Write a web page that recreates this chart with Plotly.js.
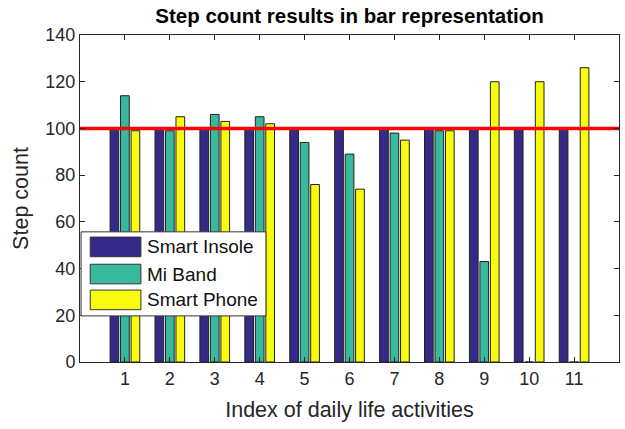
<!DOCTYPE html>
<html>
<head>
<meta charset="utf-8">
<script src="https://cdn.plot.ly/plotly-3.0.1.min.js"></script>
<style>html,body{margin:0;padding:0;background:#fff;}#chart{width:625px;height:429px;}</style>
</head>
<body>
<div id="chart"></div>
<script>
const categories = [1, 2, 3, 4, 5, 6, 7, 8, 9, 10, 11];
const seriesNames = ["Smart Insole", "Mi Band", "Smart Phone"];
const smartInsole = [100, 100, 100, 100, 100, 100, 100, 100, 100, 100, 100];
const miBand = [114, 99, 106, 105, 94, 89, 98, 99, 43, 0, 0];
const smartPhone = [99, 105, 103, 102, 76, 74, 95, 99, 120, 120, 126];
const referenceValue = 100;
const yTicks = [0, 20, 40, 60, 80, 100, 120, 140];

const colors = ["#352a87", "#38b99e", "#f9fb0e"];
const seriesValues = [smartInsole, miBand, smartPhone];

const traces = seriesValues.map((vals, i) => ({
  type: "bar",
  x: categories,
  y: vals,
  name: seriesNames[i],
  marker: { color: colors[i], line: { color: "#222", width: 1 } },
  showlegend: false,
  hoverinfo: "x+y"
}));

traces.push({
  type: "scatter",
  mode: "lines",
  x: [0, 12],
  y: [referenceValue, referenceValue],
  line: { color: "#ff0000", width: 3.5 },
  showlegend: false,
  hoverinfo: "skip"
});

// custom legend (layout shapes + annotations, paper coords)
const shapes = [{
  type: "rect", xref: "paper", yref: "paper",
  x0: 0.002, x1: 0.345, y0: 0.141, y1: 0.398,
  fillcolor: "#ffffff", line: { color: "#333", width: 1 }, layer: "above"
}];
const annotations = [];
const rowY = [0.352, 0.269, 0.19];
seriesNames.forEach((n, i) => {
  shapes.push({
    type: "rect", xref: "paper", yref: "paper",
    x0: 0.019, x1: 0.113, y0: rowY[i] - 0.03, y1: rowY[i] + 0.03,
    fillcolor: colors[i], line: { color: "#333", width: 1 }, layer: "above"
  });
  annotations.push({
    xref: "paper", yref: "paper", x: 0.121, y: rowY[i],
    xanchor: "left", yanchor: "middle", showarrow: false,
    text: n, font: { family: "Liberation Sans, Arial, sans-serif", size: 19, color: "#111" }
  });
});

const layout = {
  width: 625, height: 429,
  margin: { l: 80, r: 6, t: 35, b: 67 },
  paper_bgcolor: "#fff", plot_bgcolor: "#fff",
  font: { family: "Liberation Sans, Arial, sans-serif", size: 18, color: "#262626" },
  title: {
    text: "<b>Step count results in bar representation</b>",
    x: 0.5, xref: "paper", xanchor: "center",
    y: 0.962, yanchor: "middle",
    font: { size: 20.5, color: "#000" }
  },
  barmode: "group",
  bargap: 0.3,
  bargroupgap: 0.17,
  xaxis: {
    range: [0, 12],
    tickvals: categories,
    ticktext: categories.map(String),
    ticks: "inside", ticklen: 5, tickcolor: "#262626",
    showline: true, linecolor: "#262626", linewidth: 1, mirror: "ticks",
    showgrid: false, zeroline: false,
    tickfont: { size: 18 },
    title: { text: "Index of daily life activities", font: { size: 21.5 }, standoff: 14 }
  },
  yaxis: {
    range: [0, 140],
    tickvals: yTicks,
    ticks: "inside", ticklen: 5, tickcolor: "#262626",
    showline: true, linecolor: "#262626", linewidth: 1, mirror: "ticks",
    showgrid: false, zeroline: false,
    tickfont: { size: 18 },
    title: { text: "Step count", font: { size: 21.5 }, standoff: 10 }
  },
  shapes: shapes,
  annotations: annotations
};

Plotly.newPlot("chart", traces, layout, { displayModeBar: false, staticPlot: true });
</script>
</body>
</html>
